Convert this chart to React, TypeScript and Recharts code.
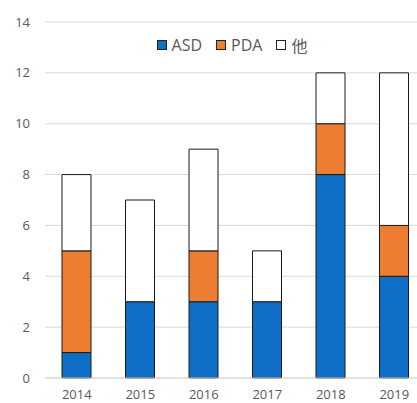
import React from "react";
import { BarChart, Bar, XAxis, YAxis, CartesianGrid, Legend } from "recharts";

const years = ["2014", "2015", "2016", "2017", "2018", "2019"];
const asd = [1, 3, 3, 3, 8, 4];
const pda = [4, 0, 2, 0, 2, 2];
const other = [3, 4, 4, 2, 2, 6];
const yTicks = [0, 2, 4, 6, 8, 10, 12, 14];

const seriesInfo = [
  { key: "asd", name: "ASD", color: "#0F6FC6" },
  { key: "pda", name: "PDA", color: "#ED7D31" },
  { key: "other", name: "他", color: "#FFFFFF" },
];

const data = years.map((y, i) => ({ year: y, asd: asd[i], pda: pda[i], other: other[i] }));

const FONT = "'Open Sans', 'Noto Sans CJK JP', sans-serif";

const LegendContent = () => (
  <div style={{ display: "flex", justifyContent: "center", alignItems: "center", fontFamily: FONT, fontSize: 16, color: "#595959", paddingLeft: 36 }}>
    {seriesInfo.map((s, i) => (
      <div key={s.key} style={{ display: "flex", alignItems: "center", marginRight: i < seriesInfo.length - 1 ? 14 : 0 }}>
        <div style={{ width: 8, height: 8, background: s.color, border: "1.5px solid #222", marginRight: 5 }} />
        <span>{s.name}</span>
      </div>
    ))}
  </div>
);

export default function App() {
  return (
    <div style={{ position: "fixed", left: 0, top: 0, width: 417, height: 403, overflow: "hidden", background: "#fff" }}>
      <BarChart width={428} height={403} data={data} margin={{ top: 22, right: 2, left: 0, bottom: 0 }}>
        <CartesianGrid vertical={false} stroke="#d9d9d9" />
        <XAxis
          dataKey="year"
          height={25}
          tickLine={false}
          axisLine={{ stroke: "#d9d9d9" }}
          tick={{ fill: "#595959", fontSize: 13, fontFamily: FONT }}
          tickSize={0}
          tickMargin={12}
        />
        <YAxis
          width={45}
          domain={[0, 14]}
          ticks={yTicks}
          interval={0}
          axisLine={false}
          tickLine={false}
          tickSize={0}
          tickMargin={15}
          tick={{ fill: "#595959", fontSize: 13, fontFamily: FONT }}
        />
        <Legend verticalAlign="middle" align="center" content={<LegendContent />} wrapperStyle={{ top: 33, left: 0, width: 428 }} />
        {seriesInfo.map((s) => (
          <Bar key={s.key} dataKey={s.key} name={s.name} stackId="a" fill={s.color} stroke="#1a1a1a" strokeWidth={1} barSize={29} isAnimationActive={false} />
        ))}
      </BarChart>
    </div>
  );
}
